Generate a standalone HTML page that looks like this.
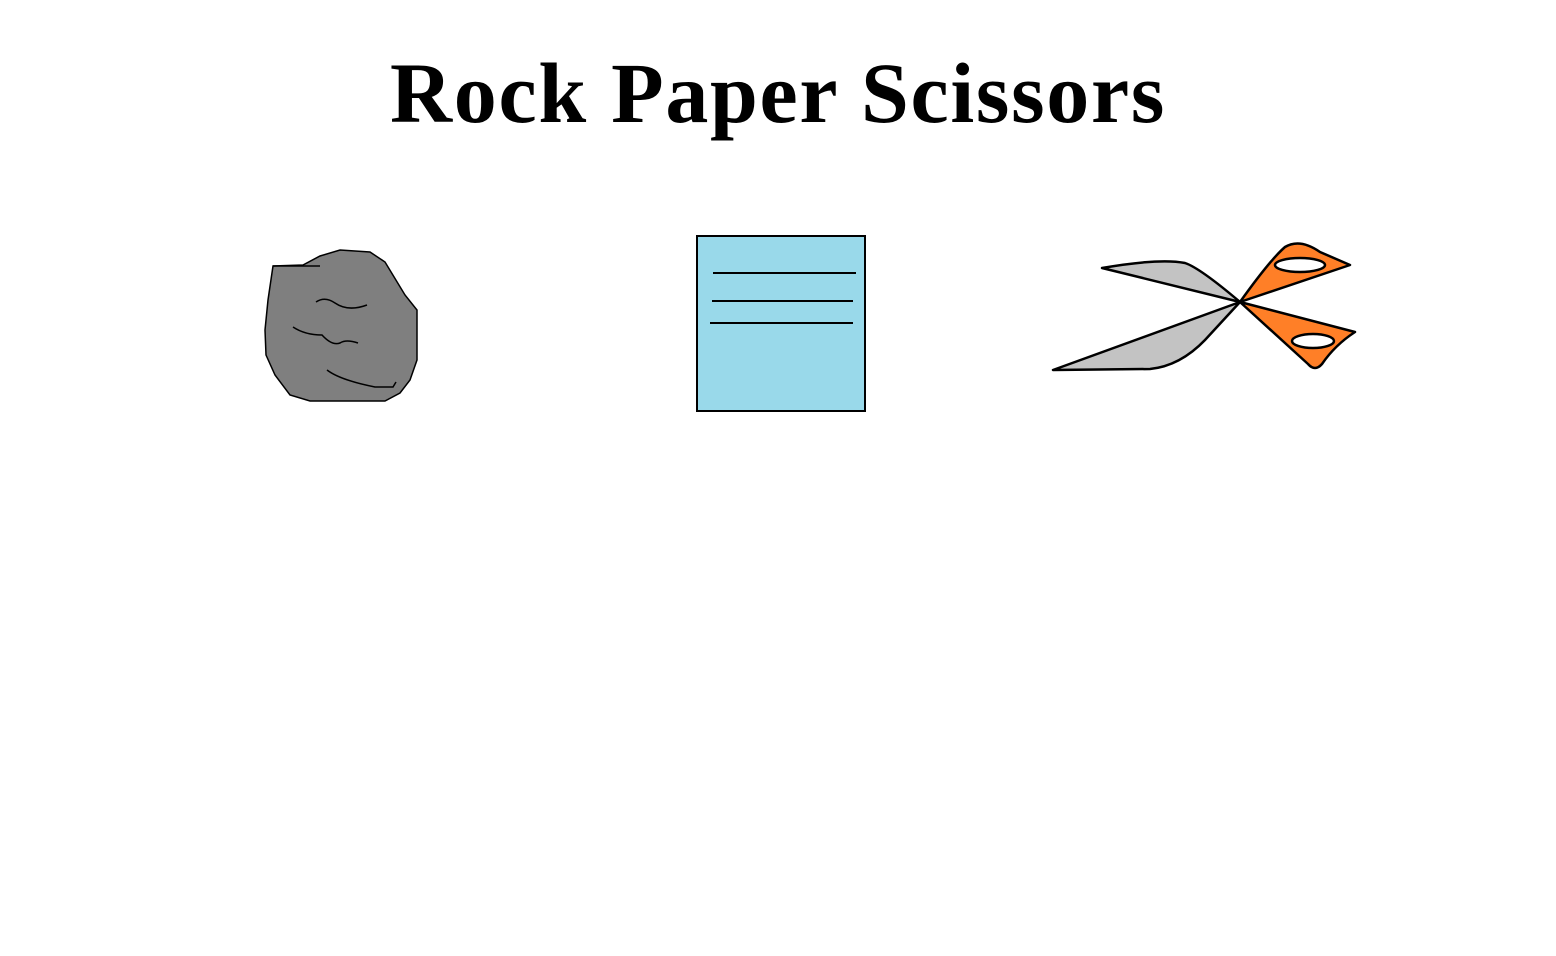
<!DOCTYPE html>
<html><head><meta charset="utf-8"><style>
html,body{margin:0;padding:0;background:#fff;width:1556px;height:956px;overflow:hidden}
h1{position:absolute;left:0;top:38px;width:1556px;margin:0;text-align:center;font-family:"Liberation Serif",serif;font-weight:bold;font-size:86px;line-height:110px;letter-spacing:1.7px;color:#000}
svg{position:absolute;left:0;top:0}
</style></head><body>
<h1>Rock Paper Scissors</h1>
<svg width="1556" height="956">
<g stroke="#000" stroke-width="1.5" fill="none">
<path fill="#7f7f7f" d="M273,266 L268,300 L265,330 L266,355 L275,375 L290,395 L310,401 L385,401 L400,393 L410,380 L417,360 L417,310 L405,295 L385,262 L370,252 L340,250 L320,256 L303,265 Z"/>
<path d="M273,266 L320,266"/>
<path d="M316,302 Q325,296 335,303 Q348,312 367,305"/>
<path d="M293,327 Q305,335 322,335 Q332,346 340,343 Q346,339 358,343"/>
<path d="M327,370 Q340,380 375,387 L393,387 L396,382"/>
</g>
<g stroke="#000" stroke-width="2">
<rect x="697" y="236" width="168" height="175" fill="#99d9ea"/>
<line x1="713" y1="273" x2="856" y2="273"/>
<line x1="712" y1="301" x2="853" y2="301"/>
<line x1="710" y1="323" x2="853" y2="323"/>
</g>
<g stroke="#000" stroke-width="2.5" stroke-linejoin="round">
<path fill="#c3c3c3" d="M1240,302 L1102,268 Q1160,258 1185,263 Q1200,268 1240,302 Z"/>
<path fill="#c3c3c3" d="M1240,302 L1053,370 L1150,369 Q1180,366 1205,340 Z"/>
<path fill="#ff7f27" d="M1240,302 Q1270,260 1285,247 Q1300,238 1320,252 L1350,265 Z"/>
<path fill="#ff7f27" d="M1240,302 L1355,332 Q1335,345 1322,364 Q1315,372 1308,364 Z"/>
<ellipse cx="1300" cy="265" rx="25" ry="7" fill="#fff"/>
<ellipse cx="1313" cy="341" rx="21" ry="7" fill="#fff"/>
</g>
</svg>
</body></html>
